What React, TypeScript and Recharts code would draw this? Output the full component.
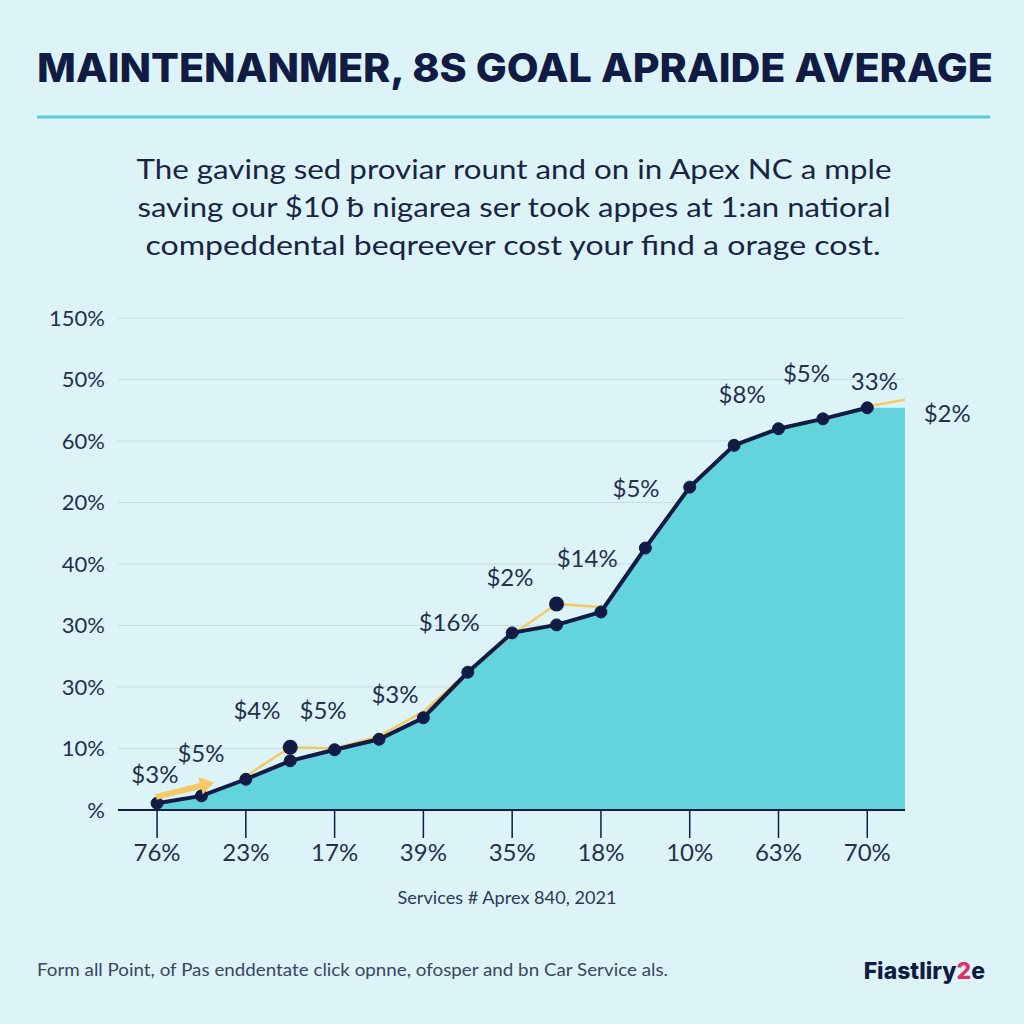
import React from 'react'
import {
  ComposedChart, Area, Line, XAxis, YAxis, CartesianGrid, ReferenceDot,
} from 'recharts'

// axis labels (as printed on the chart)
const yLabels = ['%', '10%', '30%', '30%', '40%', '20%', '60%', '50%', '150%']
const xLabels = ['76%', '23%', '17%', '39%', '35%', '18%', '10%', '63%', '70%']

// main series, one value per point (y in grid steps)
const costValues = [0.11, 0.23, 0.5, 0.8, 0.98, 1.15, 1.5, 2.24, 2.88, 3.01, 3.22, 4.26, 5.25, 5.93, 6.2, 6.36, 6.54]
// thin yellow goal trace
const goalValues: (number | null)[] = [null, null, 0.55, 1.02, 1.0, 1.2, 1.6, 2.24, 2.85, 3.35, 3.3, null, null, null, null, null, 6.56]
const goalEndValue = 6.67
const goalBigDots = [3, 9]

// callouts
const noteText = ['$3%', '$5%', '$4%', '$5%', '$3%', '$16%', '$2%', '$14%', '$5%', '$8%', '$5%', '33%', '$2%']
const noteAt = [-0.05, 0.99, 2.25, 3.74, 5.36, 6.58, 7.95, 9.69, 10.79, 13.18, 14.63, 16.16, 17.8]
const noteLevel = [0.6, 0.94, 1.63, 1.64, 1.9, 3.06, 3.79, 4.11, 5.24, 6.78, 7.11, 6.98, 6.46]

const X_MIN = -0.88
const X_MAX = 16.85

const NAVY = '#111b44'
const TEAL = '#63d3dc'
const YELLOW = '#f3c965'
const TEXT = '#25304d'
const FONT = 'Lato, "Open Sans", sans-serif'

const rows = costValues.map((v, i) => ({ i, cost: v, area: v, goal: goalValues[i] }))
rows.push({ i: X_MAX, cost: undefined as any, area: costValues[costValues.length - 1], goal: goalEndValue })

function GoalDot(props: any) {
  const { cx, cy, index } = props
  if (!goalBigDots.includes(index) || cy == null) return <g key={index} />
  return <circle key={index} cx={cx} cy={cy} r={7.5} fill={NAVY} />
}

function Arrow(props: any) {
  const { cx, cy } = props
  return (
    <g transform={`translate(${cx},${cy}) rotate(-14)`}>
      <path d="M-30,-3 L16,-3 L16,-9 L30,0 L16,9 L16,3 L-30,3 Z" fill={YELLOW} />
    </g>
  )
}

export default function App() {
  return (
    <div style={{ position: 'absolute', left: 0, top: 0, width: 1024, height: 1024, background: '#dcf4f8', overflow: 'hidden' }}>
      <div style={{ position: 'absolute', left: 0, top: 290 }}>
        <ComposedChart
          width={1024}
          height={580}
          data={rows}
          margin={{ top: 28, right: 119, left: 38, bottom: 0 }}
        >
          <CartesianGrid horizontal vertical={false} stroke="#c6dde2" strokeWidth={1.2} />
          <XAxis
            dataKey="i"
            type="number"
            domain={[X_MIN, X_MAX]}
            ticks={[0, 2, 4, 6, 8, 10, 12, 14, 16]}
            tickFormatter={(v: number) => xLabels[v / 2]}
            height={60}
            tickSize={28}
            tickMargin={6}
            axisLine={{ stroke: NAVY, strokeWidth: 2 }}
            tickLine={{ stroke: NAVY, strokeWidth: 1.5 }}
            tick={{ fontSize: 24, fill: TEXT, fontFamily: FONT }}
          />
          <YAxis
            type="number"
            domain={[0, 8]}
            ticks={[0, 1, 2, 3, 4, 5, 6, 7, 8]}
            tickFormatter={(v: number) => yLabels[v]}
            width={80}
            axisLine={false}
            tickLine={false}
            tickMargin={7}
            tick={{ fontSize: 22, fill: TEXT, fontFamily: FONT }}
          />
          <Area
            dataKey="area"
            type="linear"
            fill={TEAL}
            fillOpacity={1}
            stroke="none"
            isAnimationActive={false}
          />
          <Line
            dataKey="goal"
            type="linear"
            stroke={YELLOW}
            strokeWidth={2.5}
            dot={GoalDot}
            activeDot={false}
            connectNulls={false}
            isAnimationActive={false}
          />
          <Line
            dataKey="cost"
            type="linear"
            stroke={NAVY}
            strokeWidth={4}
            dot={{ r: 6, fill: NAVY, stroke: NAVY, strokeWidth: 1 }}
            activeDot={false}
            isAnimationActive={false}
          />
          <ReferenceDot x={0.63} y={0.33} ifOverflow="visible" shape={Arrow} />
          {noteText.map((t, k) => (
            <ReferenceDot
              key={k}
              x={noteAt[k]}
              y={noteLevel[k]}
              ifOverflow="visible"
              shape={(p: any) => (
                <text
                  x={p.cx}
                  y={p.cy}
                  textAnchor="middle"
                  dominantBaseline="central"
                  fontSize={24}
                  fontFamily={FONT}
                  fill={TEXT}
                >
                  {t}
                </text>
              )}
            />
          ))}
        </ComposedChart>
      </div>

      <svg width={1024} height={1024} style={{ position: 'absolute', left: 0, top: 0, pointerEvents: 'none' }}>
        <text x={37} y={82} fontSize={40} fontWeight={800} fontFamily="Inter, sans-serif" fill={NAVY}
          textLength={956} lengthAdjust="spacingAndGlyphs">
          MAINTENANMER, 8S GOAL APRAIDE AVERAGE
        </text>
        <line x1={37} x2={990} y1={117} y2={117} stroke="#5ccbd6" strokeWidth={3} />

        <g fontSize={27} fontFamily={FONT} fill="#1a2442" textAnchor="middle">
          <text x={514} y={179} textLength={755} lengthAdjust="spacingAndGlyphs">The gaving sed proviar rount and on in Apex NC a mple</text>
          <text x={514} y={217} textLength={753} lengthAdjust="spacingAndGlyphs">saving our $10 ƀ nigarea ser took appes at 1:an natioral</text>
          <text x={513} y={255} textLength={735} lengthAdjust="spacingAndGlyphs">compeddental beqreever cost your find a orage cost.</text>
        </g>

        <text x={507} y={904} textAnchor="middle" fontSize={17} fontFamily={FONT} fill="#2e3955"
          textLength={219} lengthAdjust="spacingAndGlyphs">
          Services # Aprex 840, 2021
        </text>

        <text x={37} y={976} fontSize={18} fontFamily={FONT} fill="#3a4560"
          textLength={631} lengthAdjust="spacingAndGlyphs">
          Form all Point, of Pas enddentate click opnne, ofosper and bn Car Service als.
        </text>
        <text x={985} y={979} textAnchor="end" fontSize={23} fontWeight={800} fontFamily="Inter, sans-serif" fill={NAVY}>
          Fiastliry<tspan fill="#e0306a">2</tspan>e
        </text>
      </svg>
    </div>
  )
}
